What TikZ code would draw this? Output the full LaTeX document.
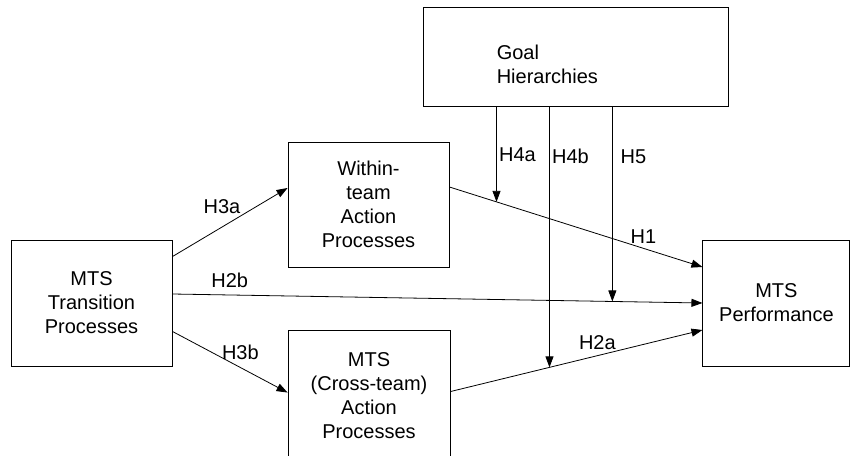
\documentclass[tikz,border=0pt]{standalone}
\usepackage{fontspec}
\setmainfont{Liberation Sans}
\usetikzlibrary{arrows.meta,positioning}
\tikzset{
	block/.style={
		rectangle,
		draw=black,
		line width=0.9pt,
		align=center,
		inner sep=2pt,
		font=\fontsize{20}{24}\selectfont
	},
	link/.style={
		->,
		line width=0.8pt
	},
	hyp/.style={
		font=\fontsize{20}{24}\selectfont,
		inner sep=0pt
	}
}

\begin{document}
\begin{tikzpicture}[x=1pt,y=-1pt,node distance=1cm,>={Triangle[length=11pt,width=8pt]}]
		\useasboundingbox (0,0) rectangle (851,455);
		\node [block,minimum width=161pt,minimum height=126pt] (trans) at (91.5,303) {MTS\\Transition\\Processes};
		\node [block,minimum width=161pt,minimum height=125pt] (within) at (368.5,204.5) {Within-\\team\\Action\\Processes};
		\node [block,minimum width=162pt,minimum height=132pt] (cross) at (369,396) {MTS\\(Cross-team)\\Action\\Processes};
		\node [block,minimum width=147pt,minimum height=126pt] (perf) [right=530pt of trans] {MTS\\Performance};
		\node [block,minimum width=305pt,minimum height=99pt] (goal) at (575.5,56.5) {};
		\node [hyp,align=left,anchor=west] (goaltext) at ([xshift=74pt,yshift=-8pt]goal.west) {Goal\\Hierarchies};
		% paths
		\draw [link] ([yshift=-17pt]trans.north east) -- node[hyp,pos=0.43,yshift=20pt] {H3a} ([yshift=16.5pt]within.west);
		\draw [link] ([yshift=35pt]trans.south east) -- node[hyp,pos=0.59,yshift=15pt] {H3b} ([yshift=-63pt]cross.north west);
		\draw [link] ([yshift=9pt]trans.east) -- node[hyp,pos=0.108,yshift=15pt] {H2b} coordinate[pos=0.83] (m5) (perf.west);
		\draw [link] ([yshift=17.5pt]within.east) -- coordinate[pos=0.186] (m4a) node[hyp,pos=0.767,yshift=12pt] {H1} ([yshift=36pt]perf.west);
		\draw [link] ([yshift=-62pt]cross.north east) -- coordinate[pos=0.393] (m4b) node[hyp,pos=0.583,yshift=13pt] {H2a} ([yshift=-27pt]perf.west);
		% moderators
		\draw [link] (goal.south -| m4a) -- node[hyp,pos=0.51,xshift=21pt] {H4a} (m4a);
		\draw [link] (goal.south -| m4b) -- node[hyp,pos=0.19,xshift=21pt] {H4b} (m4b);
		\draw [link] (goal.south -| m5) -- node[hyp,pos=0.26,xshift=21pt] {H5} (m5);
\end{tikzpicture}
\end{document}
